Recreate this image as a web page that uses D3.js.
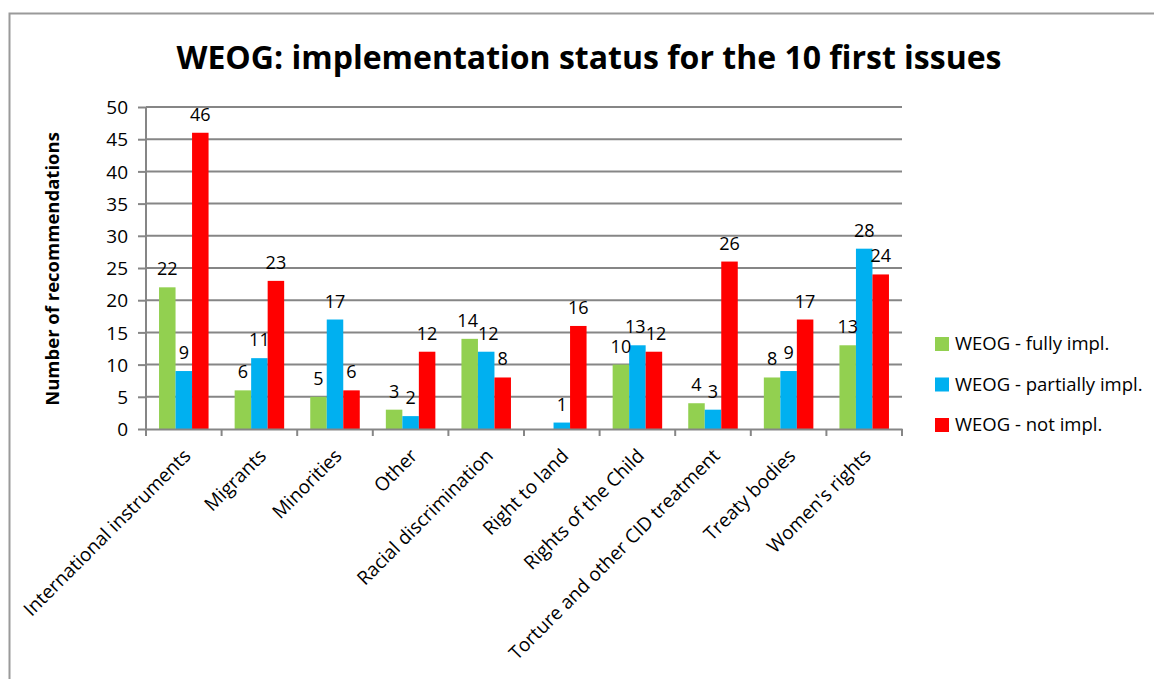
<!DOCTYPE html>
<html>
<head>
<meta charset="utf-8">
<script src="https://cdn.jsdelivr.net/npm/d3@7"></script>
<style>
  body { margin: 0; background: #fff; }
  text { font-family: "Open Sans", "Noto Sans", sans-serif; fill: #000; }
</style>
</head>
<body>
<div id="chart"></div>
<script>
// chart data
var categories = ["International instruments", "Migrants", "Minorities", "Other",
  "Racial discrimination", "Right to land", "Rights of the Child",
  "Torture and other CID treatment", "Treaty bodies", "Women's rights"];
var seriesNames = ["WEOG - fully impl.", "WEOG - partially impl.", "WEOG - not impl."];
var fullyImpl = [22, 6, 5, 3, 14, null, 10, 4, 8, 13];
var partiallyImpl = [9, 11, 17, 2, 12, 1, 13, 3, 9, 28];
var notImpl = [46, 23, 6, 12, 8, 16, 12, 26, 17, 24];
var yTicks = [0, 5, 10, 15, 20, 25, 30, 35, 40, 45, 50];
var colors = ["#92D050", "#00B0F0", "#FF0000"];

var svgWidth = 1154;
var svgHeight = 679;

var margin = { top: 107, right: 252, bottom: 250, left: 146 };
var width = svgWidth - margin.left - margin.right;
var height = svgHeight - margin.top - margin.bottom;

var svg = d3.select("#chart")
  .append("svg")
  .attr("width", svgWidth)
  .attr("height", svgHeight);

// outer frame (only top and left visible in the picture)
svg.append("path")
  .attr("d", "M9.5,679 L9.5,13.5 L1154,13.5")
  .attr("fill", "none")
  .attr("stroke", "#9a9a9a")
  .attr("stroke-width", 2);

var chartGroup = svg.append("g")
  .attr("transform", `translate(${margin.left}, ${margin.top})`);

var xScale = d3.scaleBand()
  .domain(categories)
  .range([0, width]);

var inner = d3.scaleBand()
  .domain(d3.range(3))
  .range([0, xScale.bandwidth()])
  .paddingInner(0)
  .paddingOuter(0.79);

var yScale = d3.scaleLinear()
  .domain([0, 50])
  .range([height, 0]);

// gridlines + y ticks
var yAxis = chartGroup.append("g")
  .call(d3.axisLeft(yScale).tickValues(yTicks).tickSize(8).tickPadding(10));
yAxis.select(".domain").remove();
yAxis.selectAll(".tick line").attr("stroke", "#868686").attr("stroke-width", 2);
yAxis.selectAll(".tick text")
  .style("font-size", "19px")
  .attr("dy", "0.35em");

chartGroup.append("g")
  .selectAll("line")
  .data(yTicks.slice(1))
  .enter()
  .append("line")
  .attr("x1", 0)
  .attr("x2", width)
  .attr("y1", d => yScale(d))
  .attr("y2", d => yScale(d))
  .attr("stroke", "#868686")
  .attr("stroke-width", 2);

// bars
var allSeries = [fullyImpl, partiallyImpl, notImpl];
var barData = [];
categories.forEach(function(c, i) {
  allSeries.forEach(function(s, j) {
    if (s[i] !== null) barData.push({ cat: c, s: j, v: s[i] });
  });
});

chartGroup.append("g")
  .selectAll("rect")
  .data(barData)
  .enter()
  .append("rect")
  .attr("x", d => xScale(d.cat) + inner(d.s))
  .attr("y", d => yScale(d.v))
  .attr("width", inner.bandwidth())
  .attr("height", d => height - yScale(d.v))
  .attr("fill", d => colors[d.s]);

// value labels
var valueLabels = chartGroup.append("g")
  .selectAll("text")
  .data(barData)
  .enter()
  .append("text")
  .attr("x", d => xScale(d.cat) + inner(d.s) + inner.bandwidth() / 2)
  .attr("y", d => yScale(d.v) - 12)
  .attr("text-anchor", "middle")
  .style("font-size", "18px")
  .text(d => d.v);

// push apart labels that sit side by side at nearly the same height
categories.forEach(function(c) {
  var nodes = valueLabels.filter(d => d.cat === c).nodes();
  for (var k = 1; k < nodes.length; k++) {
    var a = nodes[k - 1], b = nodes[k];
    var ay = +a.getAttribute("y"), by = +b.getAttribute("y");
    if (Math.abs(ay - by) > 16) continue;
    var ax = +a.getAttribute("x"), bx = +b.getAttribute("x");
    var overlap = (a.getComputedTextLength() + b.getComputedTextLength()) / 2 - (bx - ax);
    if (overlap > 0) {
      a.setAttribute("x", ax - overlap / 2);
      b.setAttribute("x", bx + overlap / 2);
    }
  }
});

// x axis
var xAxis = chartGroup.append("g")
  .attr("transform", `translate(0, ${height})`)
  .call(d3.axisBottom(xScale).tickSize(0).tickFormat(""));
xAxis.select(".domain").attr("stroke", "#868686").attr("stroke-width", 2);

chartGroup.append("g")
  .selectAll("line")
  .data(d3.range(categories.length + 1))
  .enter()
  .append("line")
  .attr("x1", d => d * xScale.step())
  .attr("x2", d => d * xScale.step())
  .attr("y1", height)
  .attr("y2", height + 7)
  .attr("stroke", "#868686")
  .attr("stroke-width", 2);

chartGroup.append("g")
  .selectAll("text")
  .data(categories)
  .enter()
  .append("text")
  .attr("transform", d => `translate(${xScale(d) + xScale.bandwidth() / 2 + 8}, ${height + 28}) rotate(-45)`)
  .attr("text-anchor", "end")
  .style("font-size", "19px")
  .text(d => d);

// y axis line
chartGroup.append("line")
  .attr("x1", 0).attr("x2", 0)
  .attr("y1", 0).attr("y2", height)
  .attr("stroke", "#868686")
  .attr("stroke-width", 2);

// axis title
svg.append("text")
  .attr("transform", `translate(59, ${margin.top + height / 2 + 1}) rotate(-90)`)
  .attr("text-anchor", "middle")
  .style("font-size", "18.5px")
  .style("font-weight", "bold")
  .text("Number of recommendations");

// title
svg.append("text")
  .attr("x", 589)
  .attr("y", 69)
  .attr("text-anchor", "middle")
  .style("font-size", "32px")
  .style("font-weight", "bold")
  .text("WEOG: implementation status for the 10 first issues");

// legend
var legend = svg.append("g")
  .attr("transform", "translate(935, 337)");

seriesNames.forEach(function(name, i) {
  var row = legend.append("g").attr("transform", `translate(0, ${i * 40.5})`);
  row.append("rect")
    .attr("width", 14)
    .attr("height", 14)
    .attr("fill", colors[i]);
  row.append("text")
    .attr("x", 20)
    .attr("y", 7)
    .attr("dy", "0.35em")
    .style("font-size", "18.5px")
    .text(name);
});
</script>
</body>
</html>
